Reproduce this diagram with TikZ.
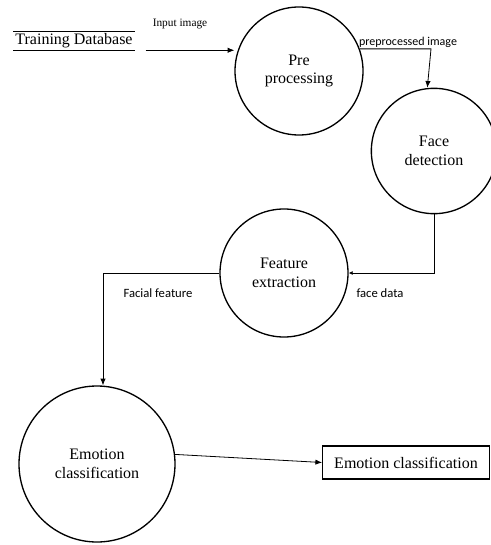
\documentclass[tikz,border=0pt]{standalone}
\usepackage{fontspec}
\setmainfont{Liberation Serif}
\newfontfamily\labelfont{Carlito}
\usetikzlibrary{arrows.meta}

\begin{document}
\begin{tikzpicture}[x=0.75pt,y=-0.75pt,
    process/.style={circle,draw,line width=1pt,align=center,font=\fontsize{12}{14}\selectfont,inner sep=0pt},
    flow/.style={line width=0.6pt,-{Latex[length=5pt,width=4pt]}},
    tag/.style={font=\labelfont\fontsize{9.5}{11}\selectfont}]
  \useasboundingbox (0,0) rectangle (490,545);
  % store
  \node[font=\fontsize{12}{14}\selectfont,inner xsep=1.5pt,inner ysep=0pt,minimum height=13.5pt] (db) at (74,41) {Training Database};
  \draw[line width=0.9pt] (db.north west) -- (db.north east);
  \draw[line width=0.9pt] (db.south west) -- (db.south east);
  % processes
  \node[process,minimum size=96pt] (pre) at (299,71) {Pre\\processing};
  \node[process,minimum size=94pt] (fd) at (434,151) {Face\\detection};
  \node[process,minimum size=96pt] (fe) at (284,273) {Feature\\extraction};
  \node[process,minimum size=117pt] (ec) at (97,464) {Emotion\\classification};
  % output
  \node[draw,line width=0.9pt,minimum width=125pt,minimum height=24.75pt,font=\fontsize{12}{14}\selectfont] (out) at (406,462.5) {Emotion classification};
  % flows
  \coordinate (start) at ([xshift=8pt]db.south east);
  \coordinate (bend) at (431,49);
  \draw[flow] (start) -- (start -| pre.west);
  \node[font=\fontsize{8.5}{10}\selectfont] at (180,24) {Input image};
  \draw[flow] (pre.20) -- (pre.20 -| bend) -- ([xshift=-5pt]fd.north);
  \node[tag,font=\labelfont\fontsize{9}{10}\selectfont] at (408,42) {preprocessed image};
  \draw[flow,-{Latex[length=3pt,width=3pt]}] (fd.south) |- (fe.east);
  \node[tag] at (380,293) {face data};
  \draw[flow] (fe.west) -| ([xshift=4.5pt]ec.north);
  \node[tag] at (158,293) {Facial feature};
  \draw[flow] (ec.7) -- (out.west);
\end{tikzpicture}
\end{document}
